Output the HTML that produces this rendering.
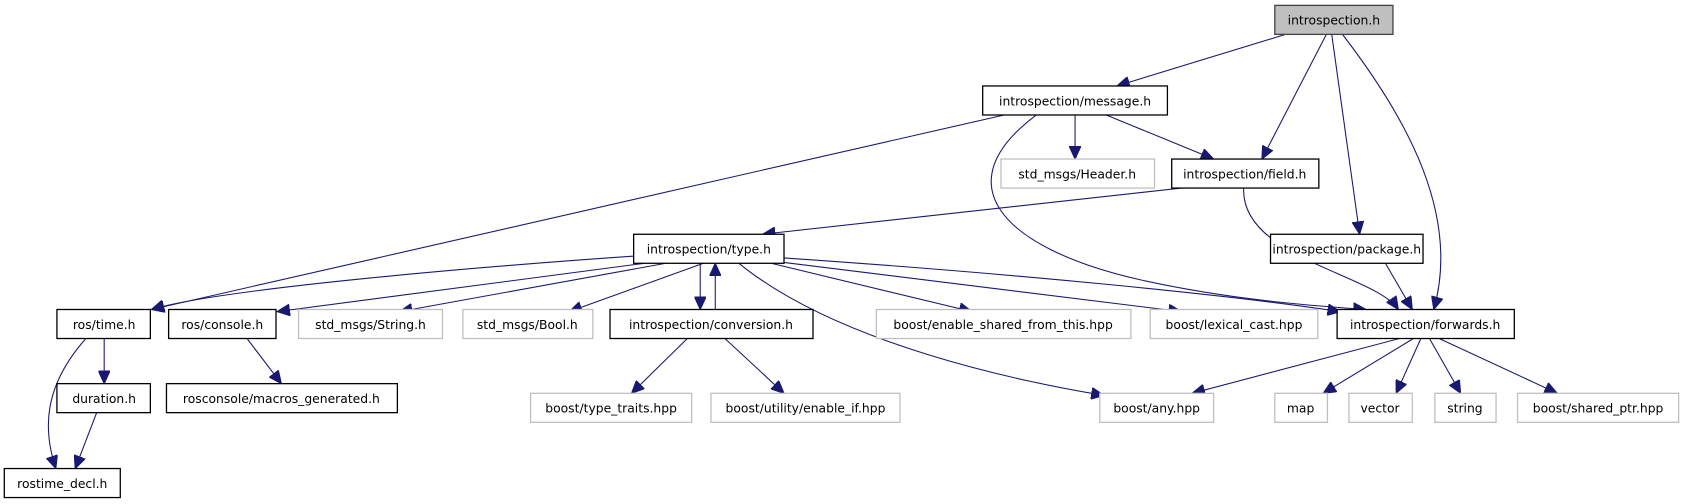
<!DOCTYPE html>
<html><head><meta charset="utf-8"><style>
html,body{margin:0;padding:0;background:#fff;}
svg{display:block;}
text{font-family:"DejaVu Sans","Liberation Sans",sans-serif;font-size:11.5px;fill:#000;text-anchor:middle;}
.n rect{fill:#fff;stroke:#000;stroke-width:1.2;}
.g rect{fill:#fff;stroke:#bfbfbf;stroke-width:1.2;}
path{fill:none;stroke:#191970;stroke-width:1;}
</style></head><body>
<svg width="1684" height="504" viewBox="0 0 1568 469" preserveAspectRatio="none" xmlns="http://www.w3.org/2000/svg">
<defs><marker id="a" markerUnits="userSpaceOnUse" markerWidth="13" markerHeight="11" refX="12" refY="5.5" orient="auto"><path d="M0,0 L12,5.5 L0,11 Z" style="fill:#191970;stroke:#191970"/></marker></defs>
<g marker-end="url(#a)">
<path d="M1197,32 L1040,80"/>
<path d="M1235,32 L1175,148"/>
<path d="M1240,32 L1266,218"/>
<path d="M1250,32 C1310,110 1360,200 1335,288"/>
<path d="M935,107 L141,288"/>
<path d="M1001,107 L1001,148"/>
<path d="M1030,107 L1130,148"/>
<path d="M965,107 C880,170 930,230 1060,260 C1150,280 1230,285 1272,288"/>
<path d="M1100,175 L710,218"/>
<path d="M1158,175 C1155,240 1280,255 1302,288"/>
<path d="M1290,245 L1315,288"/>
<path d="M595,238 C420,250 200,270 141,288"/>
<path d="M600,245 L258,290"/>
<path d="M620,245 L372,290"/>
<path d="M655,245 L530,290"/>
<path d="M652,245 L652,288"/>
<path d="M666,288 L666,245"/>
<path d="M688,245 C780,320 950,355 1028,368"/>
<path d="M718,245 L905,290"/>
<path d="M728,244 L1100,290"/>
<path d="M730,240 C950,255 1150,275 1248,290"/>
<path d="M640,315 L588,366"/>
<path d="M675,315 L730,366"/>
<path d="M1303,315 L1110,366"/>
<path d="M1316,315 L1232,366"/>
<path d="M1323,315 L1300,366"/>
<path d="M1331,315 L1360,366"/>
<path d="M1340,315 L1450,366"/>
<path d="M97,315 L97,357"/>
<path d="M80,315 C40,360 40,400 52,436"/>
<path d="M90,384 L70,436"/>
<path d="M230,315 L262,357"/>
</g>
<g class="n"><rect x="1187" y="5" width="110" height="27" style="fill:#bfbfbf;stroke:#404040"/><text x="1242" y="23">introspection.h</text></g>
<g class="n"><rect x="915" y="80" width="172" height="27"/><text x="1001" y="98">introspection/message.h</text></g>
<g class="g"><rect x="932" y="148" width="143" height="27"/><text x="1003" y="166">std_msgs/Header.h</text></g>
<g class="n"><rect x="1091" y="148" width="137" height="27"/><text x="1159" y="166">introspection/field.h</text></g>
<g class="n"><rect x="590" y="218" width="140" height="27"/><text x="660" y="236">introspection/type.h</text></g>
<g class="n"><rect x="1183" y="218" width="142" height="27"/><text x="1254" y="236">introspection/package.h</text></g>
<g class="n"><rect x="53" y="288" width="87" height="27"/><text x="97" y="306">ros/time.h</text></g>
<g class="n"><rect x="157" y="288" width="100" height="27"/><text x="207" y="306">ros/console.h</text></g>
<g class="g"><rect x="278" y="288" width="134" height="27"/><text x="345" y="306">std_msgs/String.h</text></g>
<g class="g"><rect x="431" y="288" width="121" height="27"/><text x="491" y="306">std_msgs/Bool.h</text></g>
<g class="n"><rect x="568" y="288" width="189" height="27"/><text x="662" y="306">introspection/conversion.h</text></g>
<g class="g"><rect x="816" y="288" width="237" height="27"/><text x="934" y="306">boost/enable_shared_from_this.hpp</text></g>
<g class="g"><rect x="1071" y="288" width="156" height="27"/><text x="1149" y="306">boost/lexical_cast.hpp</text></g>
<g class="n"><rect x="1245" y="288" width="165" height="27"/><text x="1327" y="306">introspection/forwards.h</text></g>
<g class="n"><rect x="53" y="357" width="87" height="27"/><text x="97" y="375">duration.h</text></g>
<g class="n"><rect x="155" y="357" width="215" height="27"/><text x="262" y="375">rosconsole/macros_generated.h</text></g>
<g class="g"><rect x="494" y="366" width="150" height="27"/><text x="569" y="384">boost/type_traits.hpp</text></g>
<g class="g"><rect x="662" y="366" width="176" height="27"/><text x="750" y="384">boost/utility/enable_if.hpp</text></g>
<g class="g"><rect x="1024" y="366" width="106" height="27"/><text x="1077" y="384">boost/any.hpp</text></g>
<g class="g"><rect x="1187" y="366" width="49" height="27"/><text x="1211" y="384">map</text></g>
<g class="g"><rect x="1256" y="366" width="59" height="27"/><text x="1285" y="384">vector</text></g>
<g class="g"><rect x="1336" y="366" width="57" height="27"/><text x="1364" y="384">string</text></g>
<g class="g"><rect x="1413" y="366" width="150" height="27"/><text x="1488" y="384">boost/shared_ptr.hpp</text></g>
<g class="n"><rect x="4" y="436" width="108" height="27"/><text x="58" y="454">rostime_decl.h</text></g>
</svg>
</body></html>
